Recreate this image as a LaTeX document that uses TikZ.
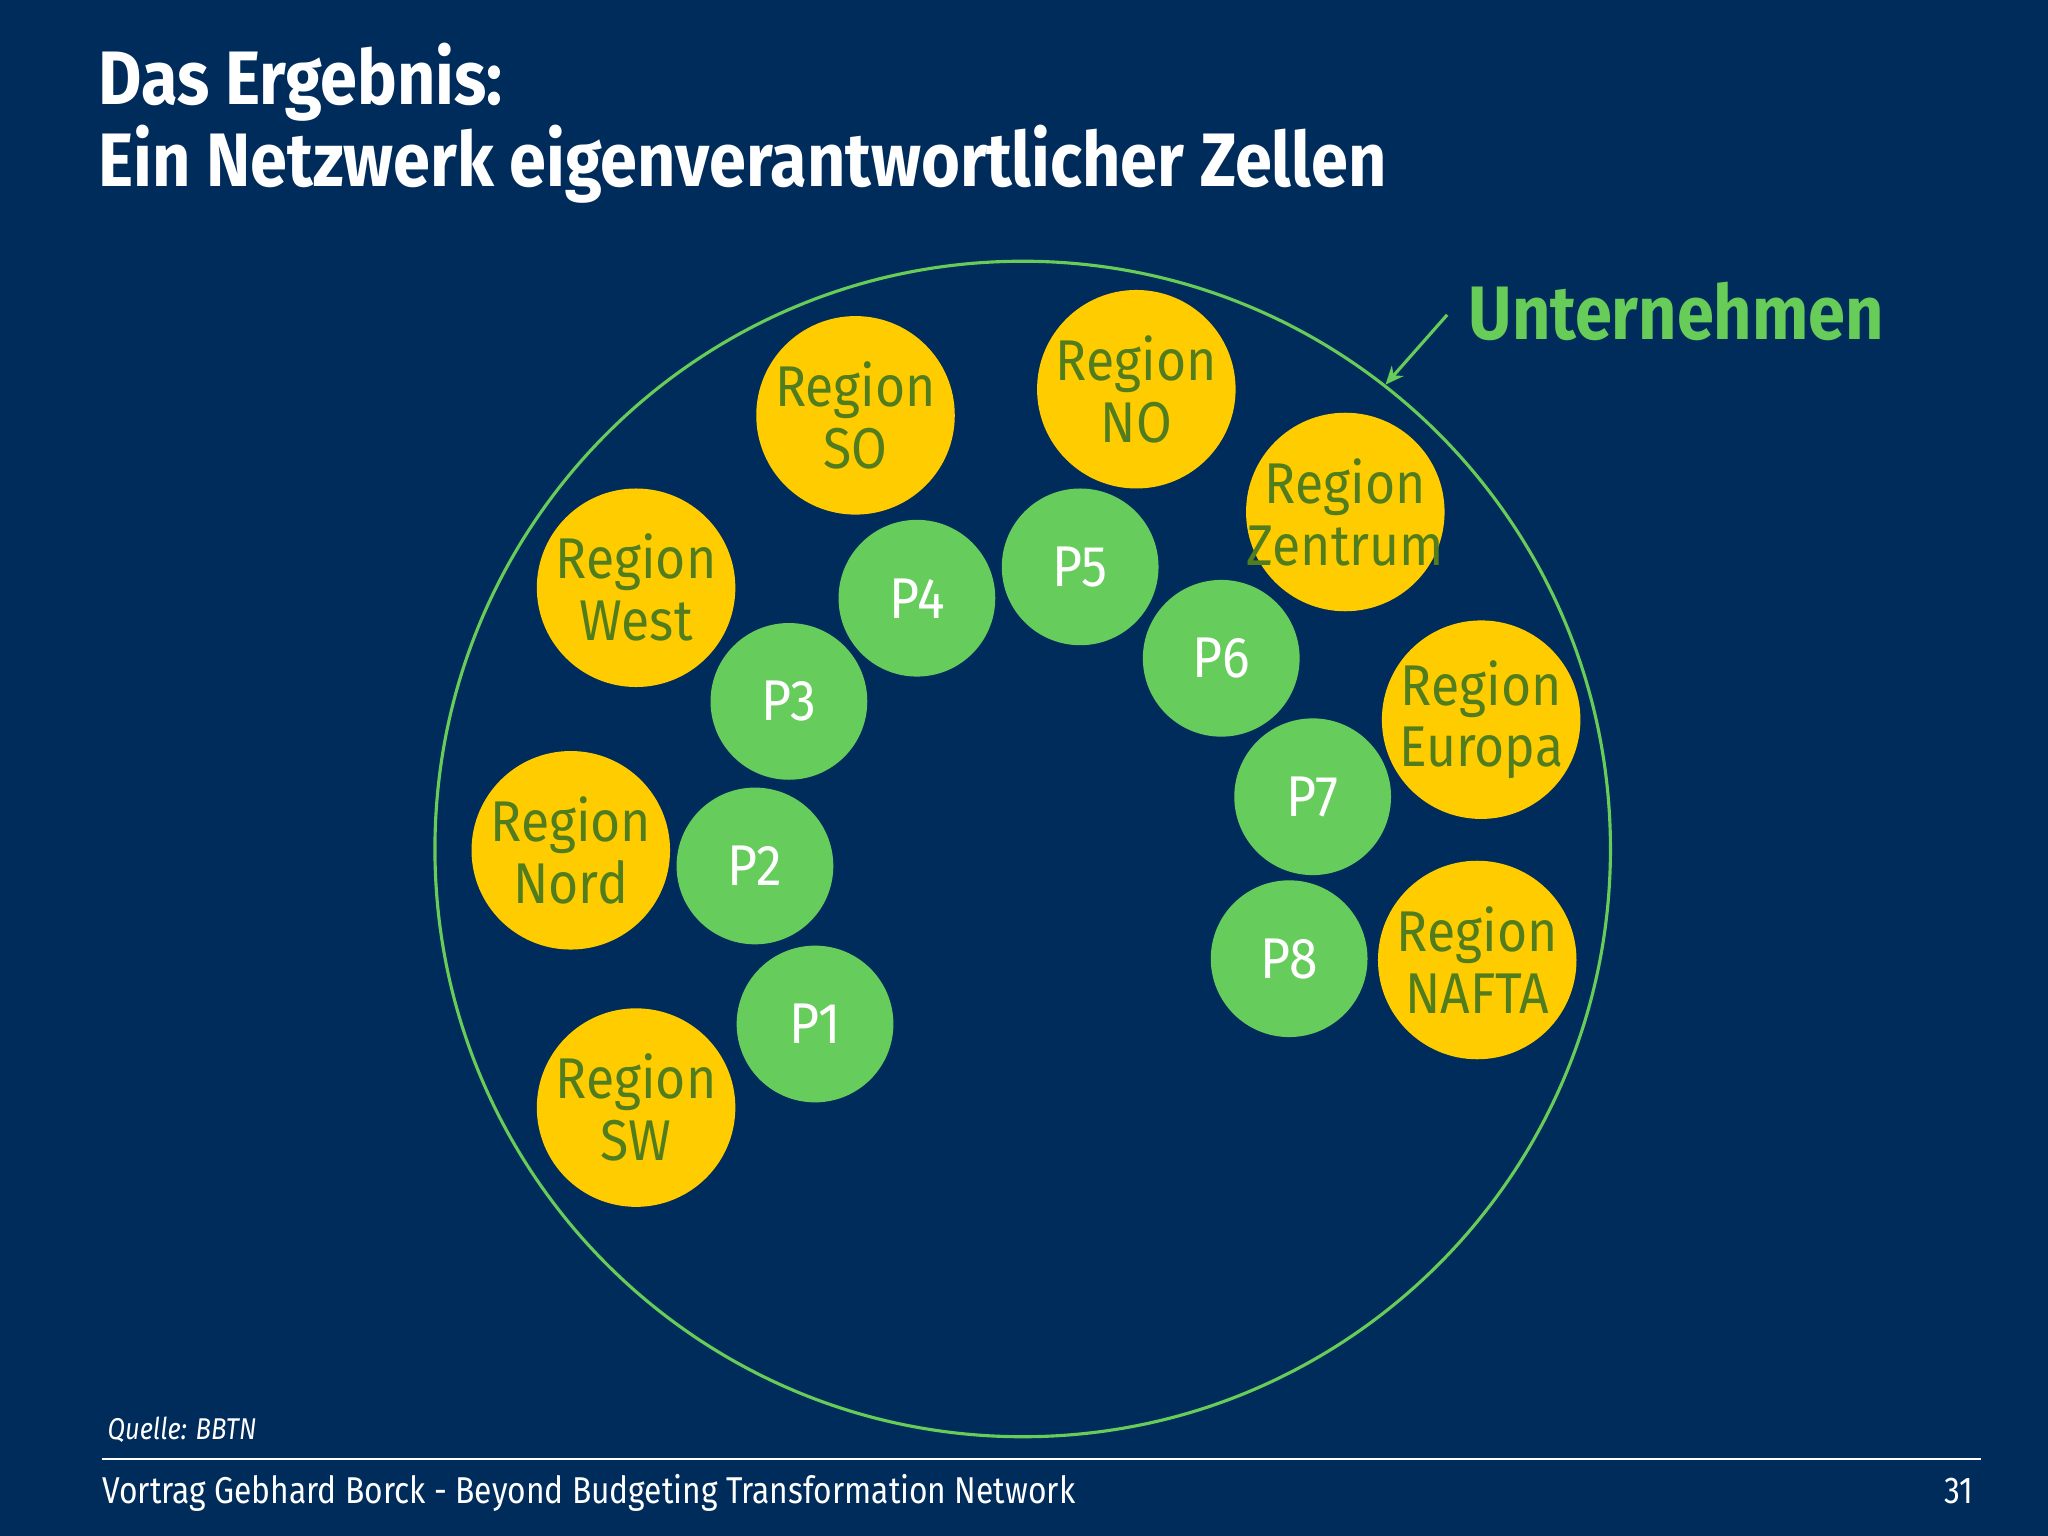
\documentclass[tikz,border=0pt]{standalone}
\usepackage{fontspec}
\setmainfont{Fira Sans}
\newfontfamily\titlefont{Fira Sans}[FakeStretch=0.88]
\newfontfamily\cellfont{Fira Sans}[FakeStretch=0.9]
\newfontfamily\footfont{Fira Sans}[FakeStretch=0.85]
\usetikzlibrary{arrows.meta}
\definecolor{bg}{RGB}{0,44,92}
\definecolor{regfill}{RGB}{255,204,0}
\definecolor{regtext}{RGB}{82,125,30}
\definecolor{pfill}{RGB}{102,204,92}
\definecolor{ugreen}{RGB}{104,204,88}
\newcommand{\zw}[1]{\makebox[0pt]{#1}}
\tikzset{
  region/.style={circle, fill=regfill, text=regtext, minimum size=76pt, inner sep=0pt, align=center,
    font=\cellfont\fontsize{22}{23.7}\selectfont},
  pcell/.style={circle, fill=pfill, text=white, minimum size=60pt, inner sep=0pt,
    font=\cellfont\fontsize{22}{23.7}\selectfont},
  titletext/.style={anchor=base west, inner sep=0pt, text=white, font=\titlefont\bfseries\fontsize{29}{34}\selectfont},
  foottext/.style={inner sep=0pt, text=white}
}
\begin{document}
\begin{tikzpicture}[x=0.5pt,y=-0.5pt]
\useasboundingbox[fill=bg] (0,0) rectangle (1568,1176);
% title
\node[titletext] (t1) at (75,80) {Das Ergebnis:};
\node[titletext] (t2) at (75,143) {Ein Netzwerk eigenverantwortlicher Zellen};
% company circle
\node[circle, draw=ugreen, line width=1.2pt, minimum size=450pt, inner sep=0pt] (bigc) at (783,650) {};
\node[anchor=base west, inner sep=0pt, text=ugreen, font=\titlefont\bfseries\fontsize{29}{34}\selectfont] (unt) at (1124,260) {Unternehmen};
\coordinate (arrtail) at (1108,241);
\draw[ugreen, line width=1.2pt, -{Stealth[length=7pt,width=6pt]}] (arrtail) -- (bigc.52);
% regions
\node[region] (rso) at (655,318) {\zw{Region}\\\zw{SO}};
\node[region] (rno) at (870,298) {\zw{Region}\\\zw{NO}};
\node[region] (rze) at (1030,392) {\zw{Region}\\\zw{Zentrum}};
\node[region] (rwe) at (487,450) {\zw{Region}\\\zw{West}};
\node[region] (reu) at (1134,551) {\zw{Region}\\\zw{Europa}};
\node[region] (rnd) at (437,651) {\zw{Region}\\\zw{Nord}};
\node[region] (rna) at (1131,735) {\zw{Region}\\\zw{NAFTA}};
\node[region] (rsw) at (487,848) {\zw{Region}\\\zw{SW}};
% cells
\node[pcell] (p1) at (624,784) {P1};
\node[pcell] (p2) at (578,663) {P2};
\node[pcell] (p3) at (604,537) {P3};
\node[pcell] (p4) at (702,458) {P4};
\node[pcell] (p5) at (827,434) {P5};
\node[pcell] (p6) at (935,504) {P6};
\node[pcell] (p7) at (1005,610) {P7};
\node[pcell] (p8) at (987,734) {P8};
% footer
\node[foottext, anchor=base west, font=\footfont\itshape\fontsize{11.5}{13}\selectfont] (src) at (82,1102) {Quelle: BBTN};
\coordinate (fl) at (78,1117);
\coordinate (fr) at (1517,1117);
\draw[white, line width=0.8pt] (fl) -- (fr);
\node[foottext, anchor=base west, font=\footfont\fontsize{14.3}{16}\selectfont] (foot) at (78,1151) {Vortrag Gebhard Borck - Beyond Budgeting Transformation Network};
\node[foottext, anchor=base east, font=\footfont\fontsize{14.3}{16}\selectfont] (pg) at (1511,1151) {31};
\end{tikzpicture}
\end{document}
